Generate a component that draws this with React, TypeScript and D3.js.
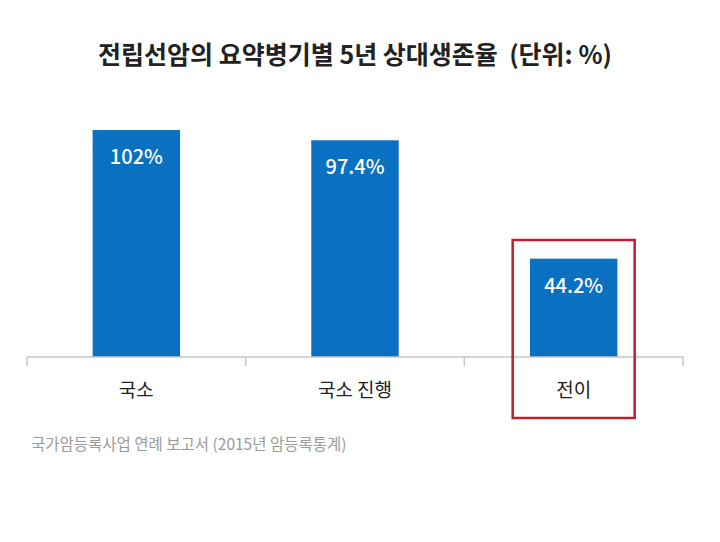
import React from "react";
import * as d3 from "d3";

const categories = ["국소", "국소 진행", "전이"];
const values = [102, 97.4, 44.2];
const valueLabels = ["102%", "97.4%", "44.2%"];
const highlightCategory = "전이";
const title = "전립선암의 요약병기별 5년 상대생존율  (단위: %)";
const source = "국가암등록사업 연례 보고서 (2015년 암등록통계)";

const W = 720;
const H = 542;
const FONT = "'Noto Sans CJK KR', 'Noto Sans', sans-serif";

export default function App() {
  const x = d3.scaleBand<string>().domain(categories).range([27, 683]).paddingInner(0.6).paddingOuter(0.3);
  const y = d3.scaleLinear().domain([0, 110]).range([357, 357 - 110 * 2.225]);
  const step = x.step();
  const tickXs = d3.range(categories.length + 1).map((i) => 27 + i * step);
  const hx = x(highlightCategory)! + x.bandwidth() / 2;

  return (
    <svg width={W} height={H} style={{ display: "block", position: "absolute", left: 0, top: 0, background: "#fff" }}>
      <rect x={0} y={0} width={W} height={H} fill="#fff" />
      <text x={355} y={64} textAnchor="middle" fontFamily={FONT} fontSize={25} fontWeight={700} fill="#222" xmlSpace="preserve" style={{ whiteSpace: "pre" }}>
        {title}
      </text>
      {categories.map((c, i) => (
        <g key={c}>
          <rect x={x(c)} y={y(values[i])} width={x.bandwidth()} height={y(0) - y(values[i])} fill="#0a70c2" />
          <text
            x={x(c)! + x.bandwidth() / 2}
            y={y(values[i]) + 34}
            textAnchor="middle"
            fontFamily={FONT}
            fontSize={20}
            fontWeight={500}
            fill="#fff"
          >
            {valueLabels[i]}
          </text>
          <text
            x={x(c)! + x.bandwidth() / 2}
            y={397}
            textAnchor="middle"
            fontFamily={FONT}
            fontSize={19}
            fontWeight={400}
            fill="#222"
          >
            {c}
          </text>
        </g>
      ))}
      <line x1={27} x2={683} y1={357} y2={357} stroke="#c6c6c6" strokeWidth={1.5} />
      {tickXs.map((t, i) => (
        <line key={i} x1={t} x2={t} y1={357} y2={366} stroke="#c6c6c6" strokeWidth={1.5} />
      ))}
      <rect x={hx - 61} y={240} width={122} height={178} fill="none" stroke="#c0202c" strokeWidth={2.5} />
      <text x={31} y={450} fontFamily={FONT} fontSize={15.5} fill="#9a9a9a">
        {source}
      </text>
    </svg>
  );
}
